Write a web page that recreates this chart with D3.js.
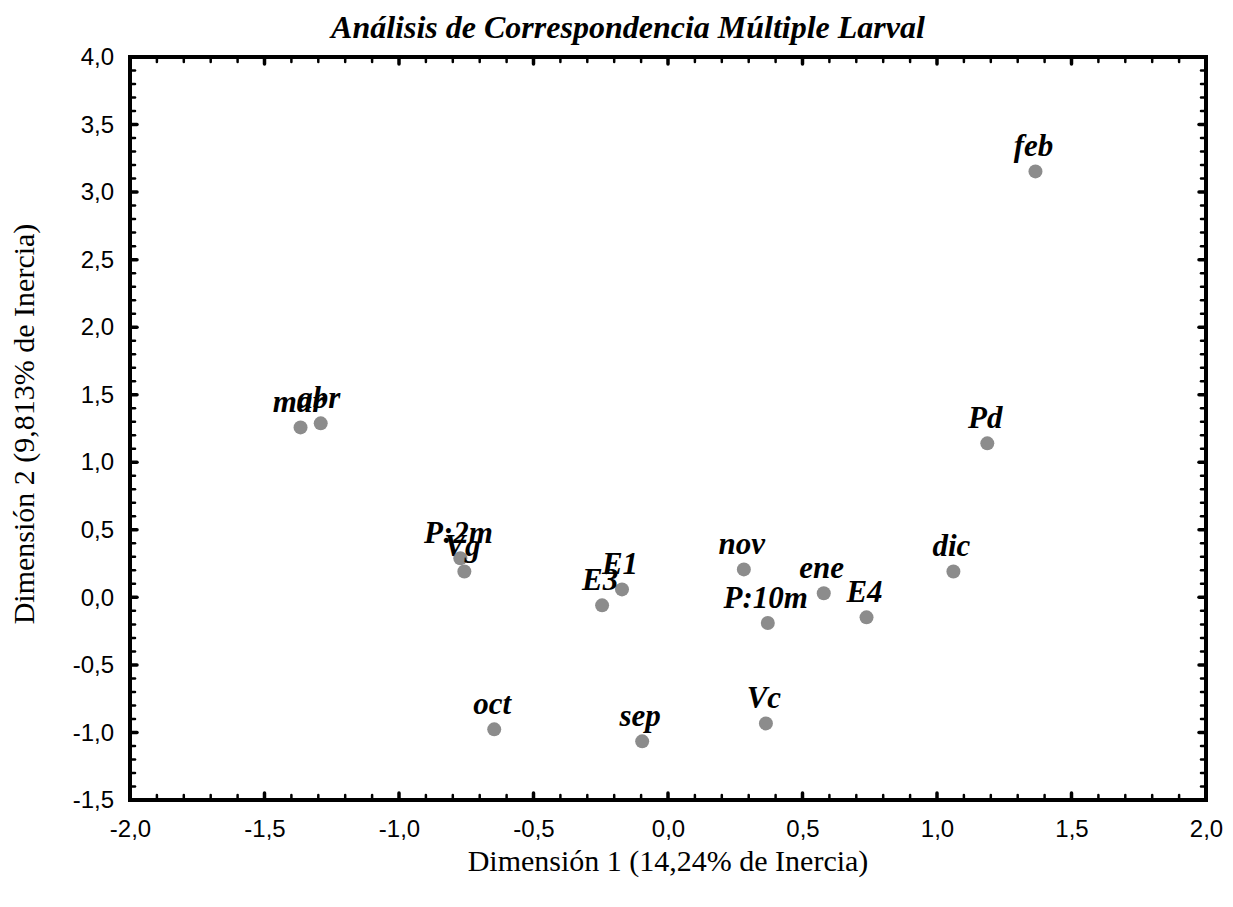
<!DOCTYPE html>
<html>
<head>
<meta charset="utf-8">
<script src="https://cdn.jsdelivr.net/npm/d3@7"></script>
<style>
  body { margin: 0; background: #fff; }
  svg { display: block; }
</style>
</head>
<body>
<svg id="chart" width="1233" height="907"></svg>
<script>
// Category labels and their coordinates on the first two dimensions
const labels = ["feb", "Pd", "dic", "E4", "ene", "P:10m", "nov", "Vc", "sep", "oct",
                "E1", "E3", "P:2m", "Vg", "mar", "abr"];
const dim1 = [1.366, 1.187, 1.061, 0.738, 0.579, 0.371, 0.282, 0.364, -0.096, -0.646,
              -0.171, -0.245, -0.772, -0.757, -1.366, -1.291];
const dim2 = [3.153, 1.14, 0.192, -0.148, 0.03, -0.19, 0.207, -0.933, -1.066, -0.977,
              0.059, -0.059, 0.289, 0.192, 1.258, 1.288];

const xTicks = [-2.0, -1.5, -1.0, -0.5, 0.0, 0.5, 1.0, 1.5, 2.0];
const yTicks = [-1.5, -1.0, -0.5, 0.0, 0.5, 1.0, 1.5, 2.0, 2.5, 3.0, 3.5, 4.0];

const title = "Análisis de Correspondencia Múltiple Larval";
const xTitle = "Dimensión 1 (14,24% de Inercia)";
const yTitle = "Dimensión 2 (9,813% de Inercia)";

const svg = d3.select("#chart");
const L = 130, R = 1206, T = 57, B = 800;

const x = d3.scaleLinear().domain([-2, 2]).range([L, R]);
const y = d3.scaleLinear().domain([-1.5, 4]).range([B, T]);

const fmt = v => d3.format(".1f")(v).replace(".", ",").replace("−", "-");

// minor tick positions every 0.1
const xMinor = d3.range(-20, 21).map(i => i / 10);
const yMinor = d3.range(-15, 41).map(i => i / 10);

const g = svg.append("g");

// inward ticks on all four sides
function ticks(vals, axis) {
  vals.forEach(v => {
    const isMajor = Math.abs(Math.round(v * 2) - v * 2) < 1e-6;
    const len = isMajor ? 7 : 5;
    const w = isMajor ? 3.5 : 2.5;
    const line = () => g.append("line").attr("stroke", "#000")
      .attr("stroke-width", w).attr("stroke-linecap", "round");
    if (axis === "x") {
      line().attr("x1", x(v)).attr("x2", x(v)).attr("y1", B).attr("y2", B - len);
      line().attr("x1", x(v)).attr("x2", x(v)).attr("y1", T).attr("y2", T + len);
    } else {
      line().attr("y1", y(v)).attr("y2", y(v)).attr("x1", L).attr("x2", L + len);
      line().attr("y1", y(v)).attr("y2", y(v)).attr("x1", R).attr("x2", R - len);
    }
  });
}
ticks(xMinor, "x");
ticks(yMinor, "y");

// plot frame
g.append("rect").attr("x", L).attr("y", T).attr("width", R - L).attr("height", B - T)
  .attr("fill", "none").attr("stroke", "#000").attr("stroke-width", 4);

// tick labels
const xAxis = d3.axisBottom(x).tickValues(xTicks).tickFormat(fmt).tickSize(0).tickPadding(20);
svg.append("g").attr("transform", `translate(0,${B})`).call(xAxis)
  .call(s => s.select(".domain").remove())
  .selectAll("text").attr("font-family", "Arial, 'Liberation Sans', sans-serif")
  .attr("font-size", 24).attr("fill", "#000");

const yAxis = d3.axisLeft(y).tickValues(yTicks).tickFormat(fmt).tickSize(0).tickPadding(16);
svg.append("g").attr("transform", `translate(${L},0)`).call(yAxis)
  .call(s => s.select(".domain").remove())
  .selectAll("text").attr("font-family", "Arial, 'Liberation Sans', sans-serif")
  .attr("font-size", 24).attr("fill", "#000");

// points
const data = labels.map((l, i) => ({ label: l, d1: dim1[i], d2: dim2[i] }));
svg.append("g").selectAll("circle").data(data).join("circle")
  .attr("cx", d => x(d.d1)).attr("cy", d => y(d.d2)).attr("r", 7)
  .attr("fill", "#8c8c8c");

// point labels
svg.append("g").selectAll("text").data(data).join("text")
  .attr("x", d => x(d.d1) - 2).attr("y", d => y(d.d2) - 15)
  .attr("text-anchor", "middle")
  .attr("font-family", "'Liberation Serif', 'Times New Roman', serif")
  .attr("font-style", "italic").attr("font-weight", "bold")
  .attr("font-size", 31).attr("fill", "#000")
  .text(d => d.label);

// titles
svg.append("text").attr("x", 628).attr("y", 38).attr("text-anchor", "middle")
  .attr("font-family", "'Liberation Serif', 'Times New Roman', serif")
  .attr("font-style", "italic").attr("font-weight", "bold").attr("font-size", 32)
  .text(title);

svg.append("text").attr("x", 668).attr("y", 871).attr("text-anchor", "middle")
  .attr("font-family", "'Liberation Serif', 'Times New Roman', serif")
  .attr("font-size", 30).text(xTitle);

svg.append("text").attr("transform", "translate(34,424) rotate(-90)").attr("text-anchor", "middle")
  .attr("font-family", "'Liberation Serif', 'Times New Roman', serif")
  .attr("font-size", 30).text(yTitle);
</script>
</body>
</html>
